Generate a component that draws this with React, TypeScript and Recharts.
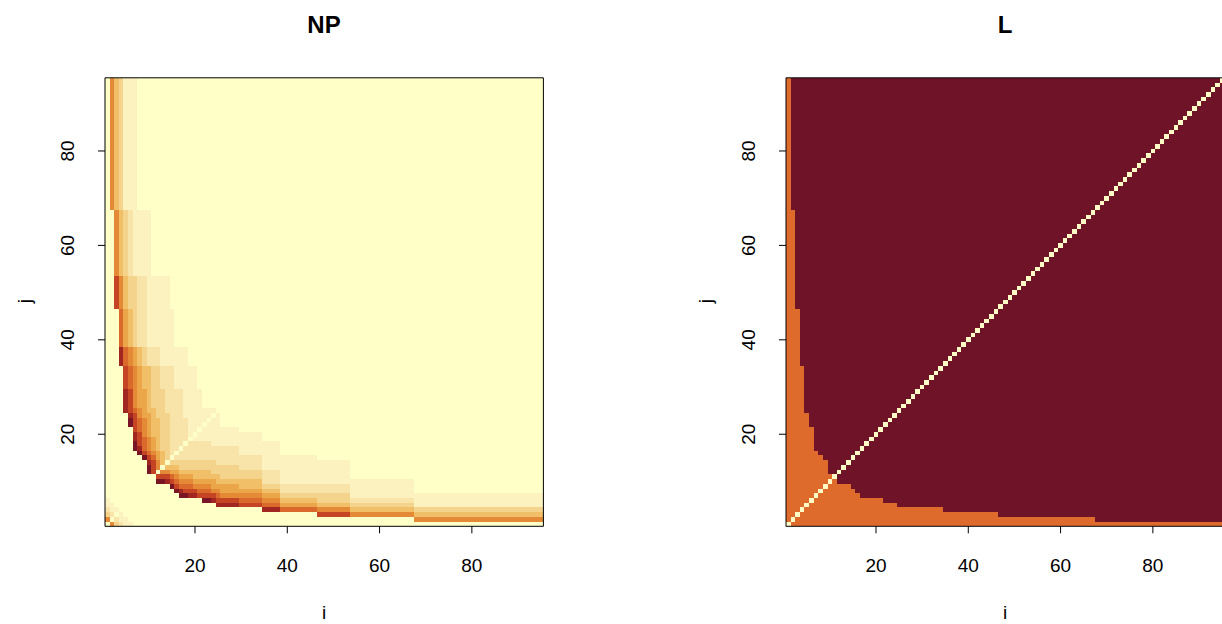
import React from 'react';
import { ComposedChart, XAxis, YAxis, ReferenceArea } from 'recharts';

const N = 95;
const tickValues = [20, 40, 60, 80];

// L panel: for columns iStart..iEnd, cells j <= hMax belong to the lower class
const lBoundary: [number, number, number][] = [
  [1, 1, 95], [2, 2, 67], [3, 3, 46], [4, 4, 34], [5, 5, 24], [6, 6, 21],
  [7, 7, 16], [8, 8, 15], [9, 9, 14], [10, 11, 11], [12, 14, 9], [15, 15, 8],
  [16, 16, 7], [17, 21, 6], [22, 24, 5], [25, 34, 4], [35, 46, 3], [47, 67, 2], [68, 95, 1],
];
const lColors = ['#DE6B2C', '#6F1428', '#FFFCC6'];

// NP panel, lower triangle (j < i): [iStart, iEnd, jStart, levels from jStart upward]
const npLowerCols: [number, number, number, string][] = [
  [12, 12, 10, 'A8'],
  [13, 13, 10, 'A86'],
  [14, 14, 10, '9864'],
  [15, 15, 9, 'A87543'],
  [16, 16, 8, 'A8765432'],
  [17, 17, 7, 'A976543322'],
  [18, 18, 7, 'A87654332222'],
  [19, 19, 7, '987654332222'],
  [20, 20, 7, '9865443322221'],
  [21, 21, 7, '87654433222211'],
  [22, 22, 6, 'A876544332222111'],
  [23, 23, 6, 'A8765443322221111'],
  [24, 24, 6, '986554333222111111'],
  [25, 25, 5, '98765443322221111111'],
  [26, 29, 5, '98655433322221111'],
  [30, 34, 5, '8765443322211111'],
  [35, 38, 4, '976543222111111'],
  [39, 46, 4, '754322111111'],
  [47, 53, 3, '864332211111'],
  [54, 67, 3, '64321111'],
  [68, 95, 2, '643111'],
];
// small corner cells (i > j)
const npCorner: [number, number, number][] = [
  [2, 1, 6], [3, 1, 3], [4, 1, 2], [5, 1, 1], [6, 1, 1], [3, 2, 2], [4, 2, 1], [5, 2, 1], [4, 3, 1],
];
const npColors = [
  '#FFFFC8', '#FCF2C0', '#F8E4A8', '#F4D48C', '#F0BF68', '#EBA64A',
  '#E48A36', '#D96A2C', '#C44424', '#A12622', '#7A1526',
];
const levelChars = '0123456789A';

type Rect = { i1: number; i2: number; j1: number; j2: number; v: number };

function emptyGrid(fill: number): number[][] {
  const g: number[][] = [];
  for (let i = 0; i <= N; i++) {
    g.push(new Array(N + 1).fill(fill));
  }
  return g;
}

function mergeGrid(grid: number[][], skip: number): Rect[] {
  const rects: Rect[] = [];
  let open = new Map<string, Rect>();
  for (let j = 1; j <= N; j++) {
    const next = new Map<string, Rect>();
    let i = 1;
    while (i <= N) {
      const v = grid[i][j];
      let k = i;
      while (k + 1 <= N && grid[k + 1][j] === v) k++;
      if (v !== skip) {
        const key = `${i}-${k}-${v}`;
        const r = open.get(key);
        if (r) {
          r.j2 = j;
          next.set(key, r);
        } else {
          const nr = { i1: i, i2: k, j1: j, j2: j, v };
          rects.push(nr);
          next.set(key, nr);
        }
      }
      i = k + 1;
    }
    open = next;
  }
  return rects;
}

function buildNP(): Rect[] {
  const g = emptyGrid(0);
  for (const [a, b, js, s] of npLowerCols) {
    for (let i = a; i <= b; i++) {
      for (let k = 0; k < s.length; k++) {
        const j = js + k;
        if (j < i) {
          const v = levelChars.indexOf(s[k]);
          g[i][j] = v;
          g[j][i] = v;
        }
      }
    }
  }
  for (const [i, j, v] of npCorner) {
    g[i][j] = v;
    g[j][i] = v;
  }
  return mergeGrid(g, 0);
}

function buildL(): Rect[] {
  const g = emptyGrid(1);
  for (const [a, b, h] of lBoundary) {
    for (let i = a; i <= b; i++) {
      for (let j = 1; j <= h; j++) g[i][j] = 0;
    }
  }
  for (let k = 1; k <= N; k++) g[k][k] = 2;
  return mergeGrid(g, 1);
}

const FONT = '"Liberation Sans", Arial, Helvetica, sans-serif';

const XTick = (props: any) => {
  const { x, y, payload } = props;
  return (
    <text x={x} y={y} dy={36.5} textAnchor="middle" fontFamily={FONT} fontSize={19} fill="#000">
      {payload.value}
    </text>
  );
};

const YTick = (props: any) => {
  const { x, y, payload } = props;
  const bx = x - 22;
  return (
    <text x={bx} y={y} textAnchor="middle" transform={`rotate(-90 ${bx} ${y})`} fontFamily={FONT} fontSize={19} fill="#000">
      {payload.value}
    </text>
  );
};

const cellShape = (p: any) => (
  <rect x={p.x} y={p.y} width={p.width} height={p.height} fill={p.fill} shapeRendering="crispEdges" />
);

function Panel(props: { rects: Rect[]; colors: string[]; bg: string; left: number; width: number; mLeft: number; mRight: number }) {
  const { rects, colors, bg, left, width, mLeft, mRight } = props;
  return (
    <div style={{ position: 'absolute', left, top: 0 }}>
      <ComposedChart width={width} height={624} margin={{ top: 77.8, right: mRight, bottom: 57.7, left: mLeft }}>
        <XAxis type="number" dataKey="x" domain={[0.5, N + 0.5]} ticks={tickValues} allowDataOverflow axisLine={false}
          tickLine={{ stroke: '#000' }} tickSize={7} height={40} tick={XTick} interval={0} />
        <YAxis type="number" dataKey="y" domain={[0.5, N + 0.5]} ticks={tickValues} allowDataOverflow axisLine={false}
          tickLine={{ stroke: '#000' }} tickSize={7} width={60} tick={YTick} interval={0} />
        <ReferenceArea x1={0.5} x2={N + 0.5} y1={0.5} y2={N + 0.5} fill={bg} fillOpacity={1} stroke="none" shape={cellShape} />
        {rects.map((r, idx) => (
          <ReferenceArea key={idx} x1={r.i1 - 0.5} x2={r.i2 + 0.5} y1={r.j1 - 0.5} y2={r.j2 + 0.5}
            fill={colors[r.v]} fillOpacity={1} stroke="none" shape={cellShape} />
        ))}
        <ReferenceArea x1={0.5} x2={N + 0.5} y1={0.5} y2={N + 0.5} fill="none" fillOpacity={0} stroke="#000" strokeWidth={1} />
      </ComposedChart>
    </div>
  );
}

export default function App() {
  const np = buildNP();
  const l = buildL();
  return (
    <div style={{ position: 'absolute', left: 0, top: 0, width: 1222, height: 624, overflow: 'hidden', background: '#fff' }}>
      <Panel rects={np} colors={npColors} bg={npColors[0]} left={0} width={611} mLeft={45} mRight={67.6} />
      <Panel rects={l} colors={lColors} bg={lColors[1]} left={611} width={629} mLeft={115} mRight={15.6} />
      <svg width={1222} height={624} style={{ position: 'absolute', left: 0, top: 0, pointerEvents: 'none' }}>
        <text x={324} y={33} textAnchor="middle" fontFamily={FONT} fontSize={24} fontWeight="bold">NP</text>
        <text x={1005} y={33} textAnchor="middle" fontFamily={FONT} fontSize={24} fontWeight="bold">L</text>
        <text x={324} y={619} textAnchor="middle" fontFamily={FONT} fontSize={19}>i</text>
        <text x={1005} y={619} textAnchor="middle" fontFamily={FONT} fontSize={19}>i</text>
        <text x={31} y={301} textAnchor="middle" fontFamily={FONT} fontSize={19} transform="rotate(-90 31 301)">j</text>
        <text x={712} y={301} textAnchor="middle" fontFamily={FONT} fontSize={19} transform="rotate(-90 712 301)">j</text>
      </svg>
    </div>
  );
}
